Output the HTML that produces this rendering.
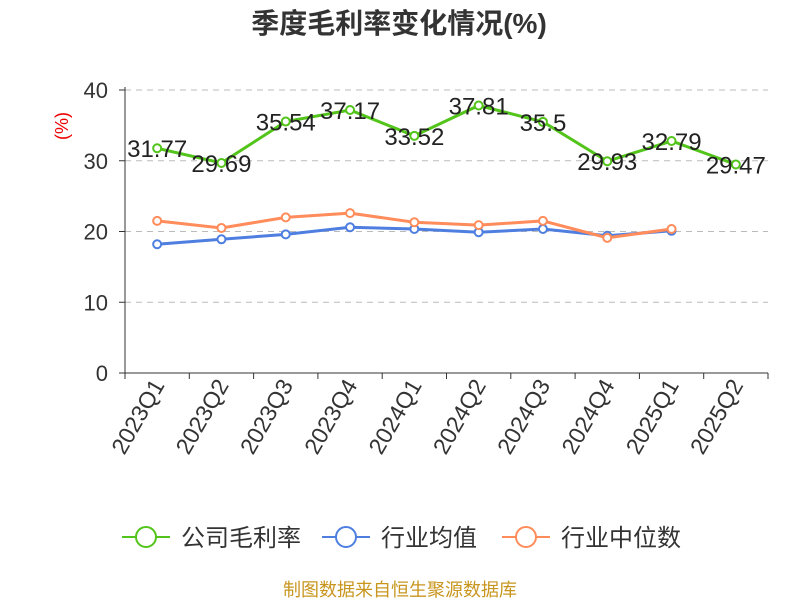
<!DOCTYPE html>
<html><head><meta charset="utf-8"><style>
body{margin:0;background:#fff;}
svg text{font-family:"Liberation Sans","Noto Sans CJK SC",sans-serif;}
</style></head><body>
<svg id="chart" width="800" height="600" xmlns="http://www.w3.org/2000/svg">
<text x="399" y="33" text-anchor="middle" font-size="28" font-weight="bold" fill="#333">季度毛利率变化情况(%)</text>
<text transform="translate(68,126) rotate(-90)" text-anchor="middle" font-size="18" fill="#e00">(%)</text>
<g id="grid"></g><g id="axes"></g><g id="series"></g>
<g>
<g><line x1="122" y1="537" x2="170" y2="537" stroke="#52c41a" stroke-width="2"/><circle cx="146" cy="537" r="10" fill="#fff" stroke="#52c41a" stroke-width="2"/><text x="181" y="546" font-size="24" fill="#333">公司毛利率</text></g>
<g><line x1="322" y1="537" x2="370" y2="537" stroke="#4e7fe0" stroke-width="2"/><circle cx="346" cy="537" r="10" fill="#fff" stroke="#4e7fe0" stroke-width="2"/><text x="381" y="546" font-size="24" fill="#333">行业均值</text></g>
<g><line x1="502" y1="537" x2="550" y2="537" stroke="#ff8c5a" stroke-width="2"/><circle cx="526" cy="537" r="10" fill="#fff" stroke="#ff8c5a" stroke-width="2"/><text x="561" y="546" font-size="24" fill="#333">行业中位数</text></g>
</g>
<text x="400" y="596" text-anchor="middle" font-size="18" fill="#c8961e">制图数据来自恒生聚源数据库</text>
</svg>
<script>
const categories=["2023Q1","2023Q2","2023Q3","2023Q4","2024Q1","2024Q2","2024Q3","2024Q4","2025Q1","2025Q2"];
const grossMargin=[31.77,29.69,35.54,37.17,33.52,37.81,35.5,29.93,32.79,29.47];
const industryMean=[18.2,18.9,19.6,20.6,20.35,19.9,20.35,19.4,20.1];
const industryMedian=[21.5,20.5,22.0,22.6,21.3,20.9,21.5,19.1,20.35];
const yTicks=[0,10,20,30,40];
const NS="http://www.w3.org/2000/svg";
const x0=125,x1=768,y0=373,y1=90,ymax=40;
const band=(x1-x0)/categories.length;
const xs=i=>x0+band*(i+0.5);
const ys=v=>y0-(v/ymax)*(y0-y1);
function mk(tag,attrs,parent){const e=document.createElementNS(NS,tag);for(const k in attrs)e.setAttribute(k,attrs[k]);parent.appendChild(e);return e;}
const grid=document.getElementById('grid'),axes=document.getElementById('axes'),series=document.getElementById('series');
yTicks.forEach(t=>{
 if(t>0){const g=mk('line',{x1:x0,x2:x1,y1:ys(t),y2:ys(t),stroke:'#bbb','stroke-dasharray':'6,5'},grid);
 
 }
 const tk=mk('line',{x1:x0-6,x2:x0,y1:ys(t),y2:ys(t),stroke:'#333'},axes);
 
 
 const lb=mk('text',{x:x0-17,y:ys(t)+8,'text-anchor':'end','font-size':22,fill:'#333'},axes);lb.textContent=t;
 
 
});
const ya=mk('line',{x1:x0,x2:x0,y1:y1-3,y2:y0,stroke:'#333'},axes);


const xa=mk('line',{x1:x0,x2:x1,y1:y0,y2:y0,stroke:'#333'},axes);


for(let i=0;i<=categories.length;i++){const tx=x0+band*i;const t=mk('line',{x1:tx,x2:tx,y1:y0,y2:y0+6,stroke:'#333'},axes);
 
 }
categories.forEach((c,i)=>{const lb=mk('text',{transform:`translate(${xs(i)+8},${y0+12}) rotate(-60)`,'text-anchor':'end','font-size':23,fill:'#333'},axes);lb.textContent=c;
 
 });
function drawSeries(vals,color,name,labels){
 const pts=vals.map((v,i)=>xs(i)+','+ys(v)).join(' ');
 const pl=mk('polyline',{points:pts,fill:'none',stroke:color,'stroke-width':3},series);
 
 
 vals.forEach((v,i)=>{const c=mk('circle',{cx:xs(i),cy:ys(v),r:4,fill:'#fff',stroke:color,'stroke-width':2},series);
  
  
  if(labels){const t=mk('text',{x:xs(i),y:ys(v)+9,'text-anchor':'middle','font-size':24,fill:'#222'},series);t.textContent=v;
   
   }
 });
}
drawSeries(industryMean,'#4e7fe0','industry-mean',false);
drawSeries(industryMedian,'#ff8c5a','industry-median',false);
drawSeries(grossMargin,'#52c41a','gross-margin',true);
</script>
</body></html>
